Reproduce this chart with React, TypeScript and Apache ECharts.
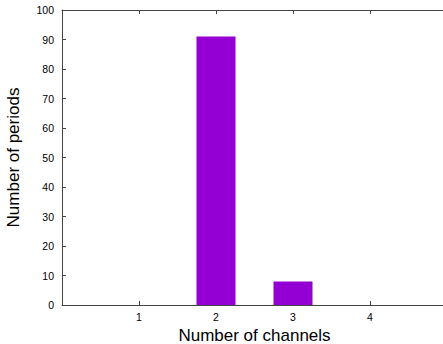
import React, { useEffect, useRef } from "react";
import * as echarts from "echarts";

const channels = [2, 3];
const periods = [91, 8];
const xTicks = [1, 2, 3, 4];

export default function App() {
  const ref = useRef<HTMLDivElement>(null);
  useEffect(() => {
    const chart = echarts.init(ref.current!, null, { renderer: "svg" });
    const font = "Liberation Sans, Arial, Helvetica, sans-serif";
    chart.setOption({
      animation: false,
      grid: { left: 62, right: -4, top: 10, bottom: 39, outerBoundsMode: "none", containLabel: false },
      xAxis: [
        {
          type: "value",
          min: 0,
          max: 5,
          interval: 1,
          position: "bottom",
          name: "Number of channels",
          nameLocation: "middle",
          nameGap: 22,
          nameTextStyle: { fontFamily: font, fontSize: 17, color: "#000", lineHeight: 17 },
          axisLine: { show: true, lineStyle: { color: "#444", width: 1 } },
          axisTick: { show: true, inside: true, length: 4, lineStyle: { color: "#444" } },
          axisLabel: {
            fontFamily: font,
            fontSize: 10.5,
            color: "#000",
            margin: 6,
            formatter: (v: number) => (xTicks.includes(v) ? String(v) : ""),
          },
          splitLine: { show: false },
        },
        {
          type: "value",
          min: 0,
          max: 5,
          interval: 1,
          position: "top",
          axisLine: { show: true, lineStyle: { color: "#444", width: 1 } },
          axisTick: { show: true, inside: true, length: 4, lineStyle: { color: "#444" } },
          axisLabel: { show: false },
          splitLine: { show: false },
        },
      ],
      yAxis: {
        type: "value",
        min: 0,
        max: 100,
        interval: 10,
        name: "Number of periods",
        nameLocation: "middle",
        nameGap: 40,
        nameTextStyle: { fontFamily: font, fontSize: 17, color: "#000" },
        axisLine: { show: true, lineStyle: { color: "#444", width: 1 } },
        axisTick: { show: true, inside: true, length: 4, lineStyle: { color: "#444" } },
        axisLabel: { fontFamily: font, fontSize: 10.5, color: "#000", margin: 8 },
        splitLine: { show: false },
      },
      series: [
        {
          type: "bar",
          xAxisIndex: 0,
          barWidth: 39,
          itemStyle: { color: "#9400D3" },
          data: channels.map((c, i) => [c, periods[i]]),
        },
      ],
    });
    return () => chart.dispose();
  }, []);
  return <div ref={ref} style={{ width: 443, height: 344, position: "absolute", left: 0, top: 0 }} />;
}
